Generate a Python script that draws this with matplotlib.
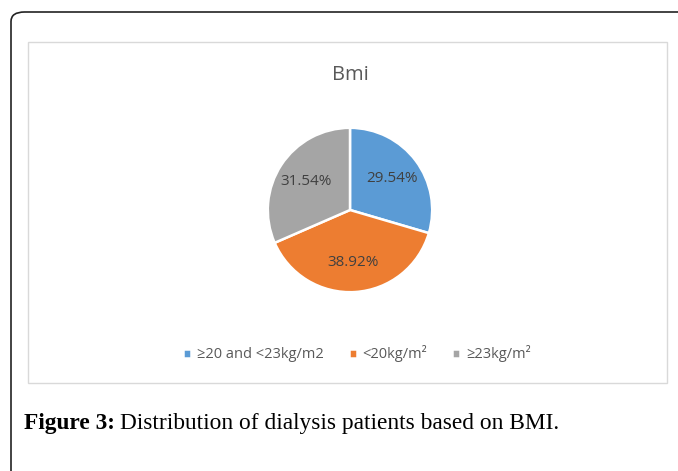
import matplotlib.pyplot as plt
from matplotlib.patches import FancyBboxPatch, Rectangle

categories = ["≥20 and <23kg/m2", "<20kg/m²", "≥23kg/m²"]
shares = [29.54, 38.92, 31.54]
colors = ["#5B9BD5", "#ED7D31", "#A5A5A5"]

W, H = 678, 471
fig = plt.figure(figsize=(W / 100, H / 100), dpi=100)
fig.patch.set_facecolor("white")

# outer rounded frame (runs off the right and bottom edges)
frame = FancyBboxPatch((11 / W, -0.2), 1.2, 1 - 12 / H + 0.2,
                       boxstyle="round,pad=0,rounding_size=0.02",
                       transform=fig.transFigure, fill=False,
                       edgecolor="#222222", linewidth=1.2)
fig.patches.append(frame)

# chart area box
box = Rectangle((28 / W, 1 - 383 / H), (667 - 28) / W, (383 - 42) / H,
                transform=fig.transFigure, fill=False,
                edgecolor="#D9D9D9", linewidth=1.0)
fig.patches.append(box)

fig.text(350 / W, 1 - 75 / H, "Bmi", ha="center", va="center",
         fontsize=14.5, color="#595959", family="Open Sans")

# pie
r = 83
cx, cy = 350, 210
ax = fig.add_axes([(cx - r) / W, 1 - (cy + r) / H, 2 * r / W, 2 * r / H])
wedges, texts, autotexts = ax.pie(
    shares, colors=colors, startangle=90, counterclock=False,
    autopct="%.2f%%", pctdistance=0.64,
    wedgeprops=dict(edgecolor="white", linewidth=1.8),
    textprops=dict(fontsize=11, color="#404040", family="Open Sans"))
ax.set_xlim(-1.01, 1.01)
ax.set_ylim(-1.01, 1.01)
ax.set_aspect("equal")

fig.legend(wedges, categories, loc="center", bbox_to_anchor=(357 / W, 1 - 354 / H),
           ncol=3, frameon=False, handlelength=0.55, handleheight=0.55,
           handletextpad=0.4, columnspacing=1.7, labelcolor="#595959",
           prop=dict(family="Open Sans", size=10.5))

# caption
cap1 = fig.text(24 / W, 1 - 423 / H, "Figure 3:", ha="left", va="center",
                fontsize=16.8, fontweight="bold", family="Liberation Serif", color="black")
fig.canvas.draw()
bb = cap1.get_window_extent(fig.canvas.get_renderer())
fig.text((bb.x1 + 5) / W, 1 - 423 / H, "Distribution of dialysis patients based on BMI.",
         ha="left", va="center", fontsize=16.8, family="Liberation Serif", color="black")

fig.savefig("out.png", dpi=100)
